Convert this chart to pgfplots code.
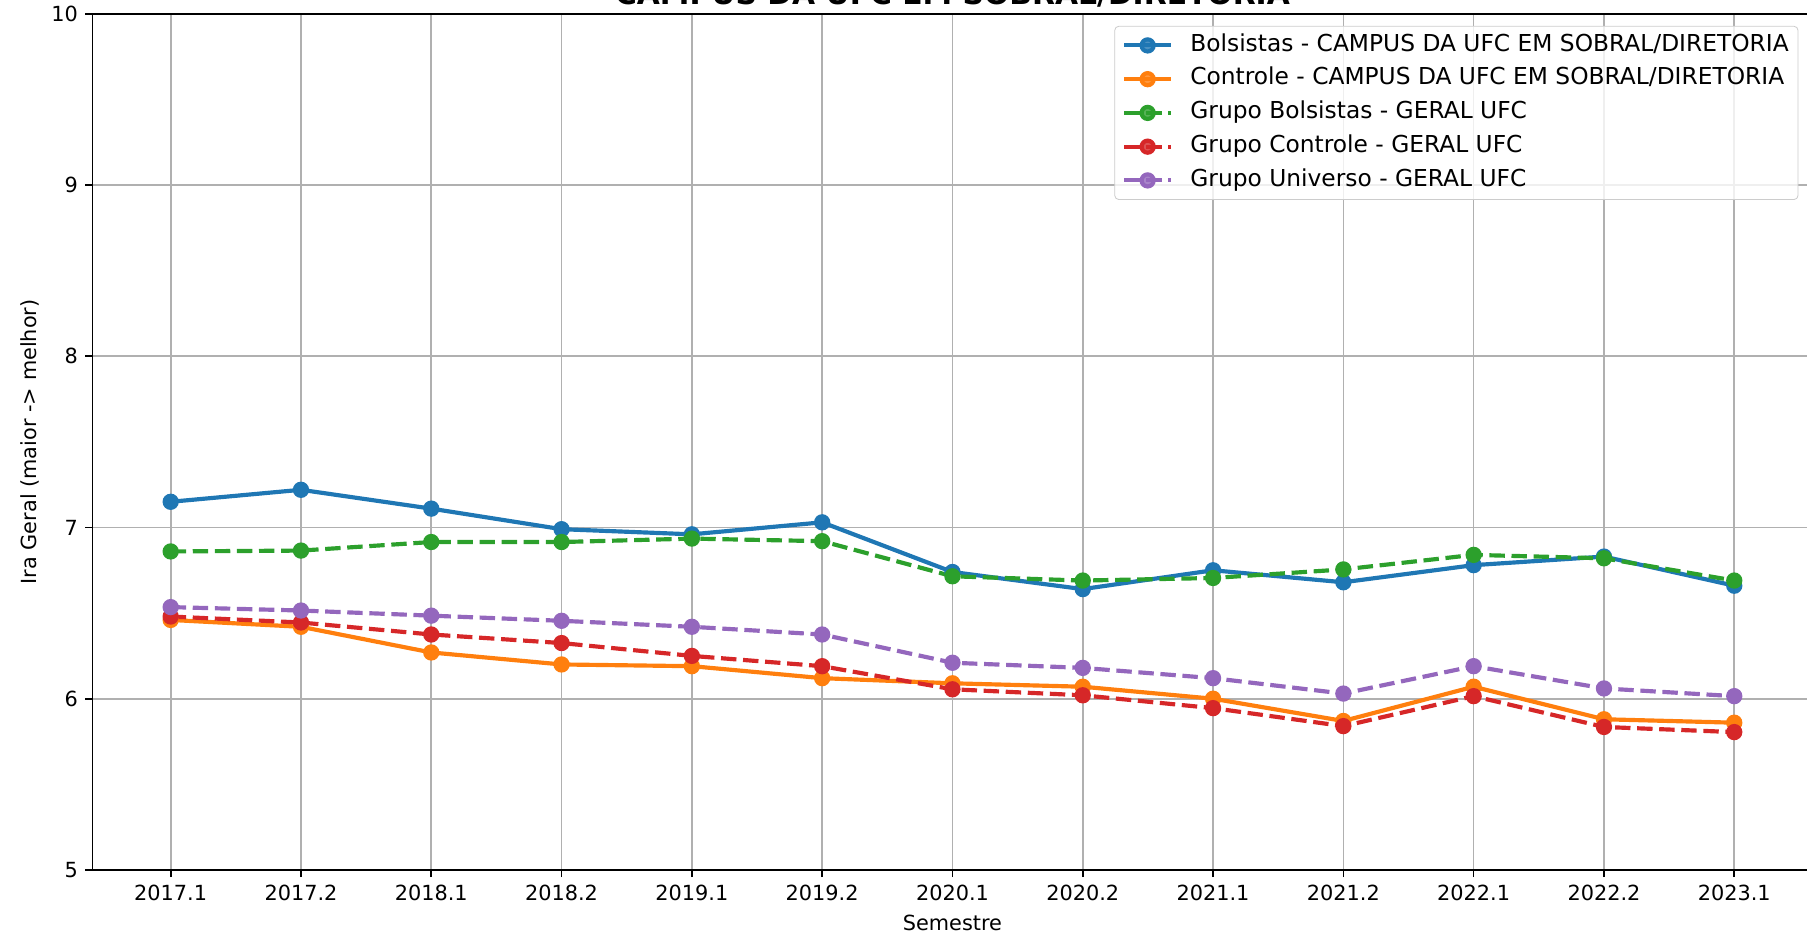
\documentclass[border=0pt]{standalone}
\usepackage{fontspec}
\setmainfont{DejaVu Sans}
\usepackage{pgfplots}
\pgfplotsset{compat=1.18}

\definecolor{c0}{HTML}{1F77B4}
\definecolor{c1}{HTML}{FF7F0E}
\definecolor{c2}{HTML}{2CA02C}
\definecolor{c3}{HTML}{D62728}
\definecolor{c4}{HTML}{9467BD}
\definecolor{gridgray}{HTML}{B0B0B0}
\definecolor{legendgray}{HTML}{CCCCCC}

% semesters 2017.1 ... 2023.1 plotted at 0..12
\pgfplotstableread{
x bolsistas controle gbolsistas gcontrole guniverso
0  7.15 6.46 6.860 6.480 6.535
1  7.22 6.42 6.865 6.445 6.515
2  7.11 6.27 6.915 6.375 6.485
3  6.99 6.20 6.915 6.325 6.455
4  6.96 6.19 6.935 6.250 6.420
5  7.03 6.12 6.920 6.190 6.375
6  6.74 6.09 6.715 6.055 6.210
7  6.64 6.07 6.690 6.020 6.180
8  6.75 6.00 6.705 5.945 6.120
9  6.68 5.87 6.755 5.840 6.030
10 6.78 6.07 6.840 6.015 6.190
11 6.83 5.88 6.820 5.835 6.060
12 6.66 5.86 6.690 5.805 6.015
}\ira

\begin{document}
\begin{tikzpicture}
\begin{axis}[
    scale only axis,
    width=825.6pt, height=411pt,
    xmin=-0.6, xmax=12.6,
    ymin=5, ymax=10,
    xtick={0,...,12},
    xticklabels={2017.1,2017.2,2018.1,2018.2,2019.1,2019.2,2020.1,2020.2,2021.1,2021.2,2022.1,2022.2,2023.1},
    ytick={5,6,7,8,9,10},
    /pgf/number format/assume math mode=true,
    tick pos=left,
    tick align=outside,
    major tick length=3.5pt,
    tick style={black, line width=0.8pt},
    axis line style={line width=0.8pt},
    grid=major,
    grid style={gridgray, line width=0.8pt},
    xlabel={Semestre},
    ylabel={Ira Geral (maior -> melhor)},
    xlabel style={at={(axis description cs:0.5,-0.0618)}, anchor=center},
    ylabel style={at={(axis description cs:-0.0363,0.5)}, anchor=center},
    title={CAMPUS DA UFC EM SOBRAL/DIRETORIA},
    every axis title shift=0pt,
    title style={at={(axis description cs:0.5,1)}, anchor=base, yshift=4.4pt, font=\bfseries\fontsize{14.3}{16}\selectfont},
    legend cell align=left,
    legend style={at={(1,1)}, anchor=north east, xshift=-6.7pt, yshift=-5.8pt,
        draw=legendgray, rounded corners=2pt, fill=white, fill opacity=0.8, text opacity=1,
        font=\fontsize{11.2}{13}\selectfont,
        nodes={inner xsep=1pt, inner ysep=0pt, text height=9.4pt, text depth=3.8pt},
        /tikz/every odd column/.append style={column sep=7.2pt},
        row sep=3pt, inner xsep=3.5pt, inner ysep=2.6pt},
    legend image code/.code={\draw[mark repeat=2,mark phase=2,#1] plot coordinates {(0cm,0cm) (0.397cm,0cm) (0.794cm,0cm)};},
    every axis plot/.append style={line width=2pt, mark=*, mark size=2.9pt, mark options={solid}},
]
\addplot[c0] table[x=x, y=bolsistas] {\ira};
\addplot[c1] table[x=x, y=controle] {\ira};
\addplot[c2, dash pattern=on 7.4pt off 3.2pt] table[x=x, y=gbolsistas] {\ira};
\addplot[c3, dash pattern=on 7.4pt off 3.2pt] table[x=x, y=gcontrole] {\ira};
\addplot[c4, dash pattern=on 7.4pt off 3.2pt] table[x=x, y=guniverso] {\ira};
\legend{Bolsistas - CAMPUS DA UFC EM SOBRAL/DIRETORIA,
        Controle - CAMPUS DA UFC EM SOBRAL/DIRETORIA,
        Grupo Bolsistas - GERAL UFC,
        Grupo Controle - GERAL UFC,
        Grupo Universo - GERAL UFC}
\end{axis}
\pgfresetboundingbox
\path[use as bounding box] (current axis.south west) ++(-44.4pt,-31.7pt) rectangle ++(867.4pt,449.3pt);
\end{tikzpicture}
\end{document}
